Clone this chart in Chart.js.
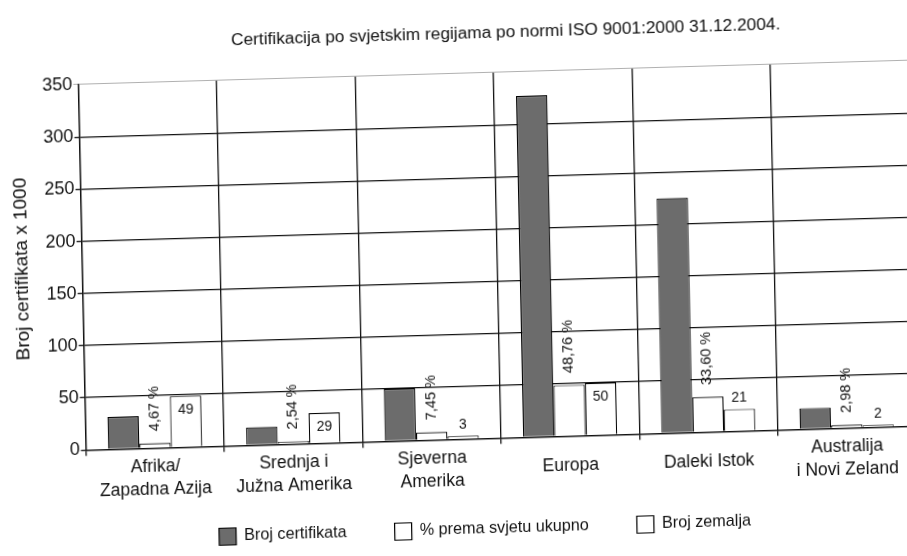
<!DOCTYPE html>
<html><head><meta charset="utf-8">
<script src="https://cdn.jsdelivr.net/npm/chart.js@4.4.1/dist/chart.umd.min.js"></script>
<style>
html,body{margin:0;padding:0;background:#fff;overflow:hidden;width:907px;height:556px;}
#wrap{position:absolute;left:0;top:0;width:920px;height:575px;transform-origin:453.5px 278px;transform:matrix(1,-0.029,0.021,1,0,0);}
</style></head><body>
<div id="wrap"><canvas id="c" width="920" height="575"></canvas></div>
<script>
const TITLE = 'Certifikacija po svjetskim regijama po normi ISO 9001:2000 31.12.2004.';
const Y_TITLE = 'Broj certifikata x 1000';
const REGIONS = [['Afrika/', 'Zapadna Azija'], ['Srednja i', 'Južna Amerika'], ['Sjeverna', 'Amerika'], 'Europa', 'Daleki Istok', ['Australija', 'i Novi Zeland']];
const SERIES_NAMES = ['Broj certifikata', '% prema svjetu ukupno', 'Broj zemalja'];
const CERTIFICATES = [31, 17, 50, 327, 225, 20];
const PERCENT_OF_WORLD = [4.67, 2.54, 7.45, 48.76, 33.60, 2.98];
const COUNTRIES = [49, 29, 3, 50, 21, 2];
const Y_TICKS = [0, 50, 100, 150, 200, 250, 300, 350];

const FONT = '"Liberation Sans", Arial, sans-serif';
const INK = '#111';

const barLabels = {
  id: 'barLabels',
  afterLayout(chart) {
    if (chart.titleBlock) { chart.titleBlock.left += 54.5; chart.titleBlock.right += 54.5; }
    if (chart.legend) {
      chart.legend.left += 23.5; chart.legend.right += 23.5;
      chart.legend.top -= 25.8; chart.legend.bottom -= 25.8;
    }
  },
  afterDatasetsDraw(chart) {
    const ctx = chart.ctx;
    ctx.save();
    ctx.fillStyle = INK;
    const pm = chart.getDatasetMeta(1);
    ctx.font = '14.5px ' + FONT;
    pm.data.forEach((bar, i) => {
      const txt = PERCENT_OF_WORLD[i].toFixed(2).replace('.', ',') + ' %';
      ctx.save();
      ctx.translate(bar.x, bar.y - 12);
      ctx.rotate(-Math.PI / 2);
      ctx.textAlign = 'left';
      ctx.textBaseline = 'middle';
      ctx.fillText(txt, 0, 0);
      ctx.restore();
    });
    const cm = chart.getDatasetMeta(2);
    ctx.font = '14px ' + FONT;
    ctx.textAlign = 'center';
    cm.data.forEach((bar, i) => {
      const inside = (bar.base - bar.y) > 22;
      ctx.textBaseline = inside ? 'top' : 'bottom';
      ctx.fillText(String(COUNTRIES[i]), bar.x, inside ? bar.y + 7 : bar.y - 4);
    });
    ctx.restore();
  }
};

new Chart(document.getElementById('c'), {
  type: 'bar',
  data: {
    labels: REGIONS,
    datasets: [
      { label: SERIES_NAMES[0], data: CERTIFICATES, backgroundColor: '#6c6c6c', borderColor: '#000', borderWidth: 1.2 },
      { label: SERIES_NAMES[1], data: PERCENT_OF_WORLD, backgroundColor: '#fff', borderColor: '#000', borderWidth: 1.2 },
      { label: SERIES_NAMES[2], data: COUNTRIES, backgroundColor: '#fff', borderColor: '#000', borderWidth: 1.2 }
    ]
  },
  options: {
    responsive: false,
    animation: false,
    devicePixelRatio: 1,
    categoryPercentage: 0.68,
    barPercentage: 1.0,
    layout: { padding: { left: 0, right: 7, top: 0, bottom: 0.7 } },
    plugins: {
      title: { display: true, text: TITLE, color: INK, font: { family: FONT, size: 17.3, weight: 'normal' }, padding: { top: 24.1, bottom: 29.1 } },
      legend: { position: 'bottom', labels: { boxWidth: 17, boxHeight: 17, padding: 48, color: INK, font: { family: FONT, size: 16.2 } } },
      tooltip: { enabled: false }
    },
    scales: {
      x: {
        offset: true,
        grid: { offset: true, color: INK, lineWidth: 1.3, tickLength: 6 },
        border: { color: INK, width: 1.3 },
        ticks: { color: INK, font: { family: FONT, size: 17.5, lineHeight: 1.3 }, padding: 12.7, crossAlign: 'center', maxRotation: 0, autoSkip: false },
        afterFit: s => { s.height = 60; }
      },
      y: {
        min: 0, max: 350,
        afterBuildTicks: s => { s.ticks = Y_TICKS.map(v => ({ value: v })); },
        ticks: { color: INK, font: { family: FONT, size: 18 }, padding: 1 },
        grid: {
          color: c => (c.tick && c.tick.value === 350) ? '#b0b0b0' : INK,
          lineWidth: c => (c.tick && c.tick.value === 350) ? 1 : 1.3,
          tickLength: 5
        },
        border: { color: INK, width: 1.3 },
        title: { display: true, text: Y_TITLE, color: INK, font: { family: FONT, size: 19 }, padding: { top: 11.6, bottom: 0 } },
        afterFit: s => { s.width = 82.6; }
      }
    }
  },
  plugins: [barLabels]
});
</script>
</body></html>
